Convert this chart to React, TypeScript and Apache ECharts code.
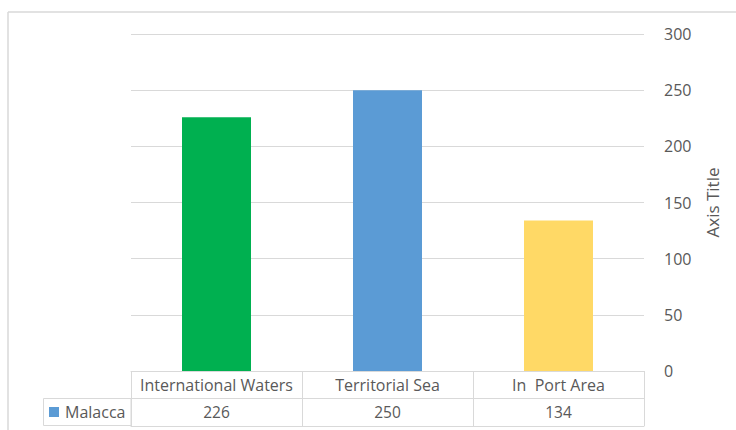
import React, { useEffect, useRef } from "react";
import * as echarts from "echarts";

const categories = ["International Waters", "Territorial Sea", "In  Port Area"];
const seriesName = "Malacca";
const values = [226, 250, 134];
const barColors = ["#00B050", "#5B9BD5", "#FFD966"];
const yTicks = { min: 0, max: 300, interval: 50 };

const TEXT = "#595959";
const LINE = "#D9D9D9";
const FONT = "'Open Sans', 'Noto Sans', sans-serif";

export default function App() {
  const ref = useRef<HTMLDivElement>(null);
  useEffect(() => {
    if (!ref.current) return;
    const chart = echarts.init(ref.current, null, { renderer: "svg" });
    const option: any = {
      animation: false,
      backgroundColor: "#fff",
      textStyle: { fontFamily: FONT },
      grid: { left: 131, right: 92, top: 34, bottom: 59, containLabel: false },
      legend: {
        data: [seriesName],
        left: 49,
        top: 404,
        padding: 0,
        icon: "rect",
        itemWidth: 10,
        itemHeight: 10,
        itemGap: 6,
        textStyle: { fontSize: 16, color: TEXT, fontFamily: FONT, padding: [0, 0, 0, 1] },
      },
      xAxis: [
        {
          type: "category",
          data: categories,
          position: "bottom",
          axisLine: { show: true, lineStyle: { color: LINE, width: 1 } },
          axisTick: { show: true, length: 55, lineStyle: { color: LINE, width: 1 } },
          axisLabel: { margin: 5.5, fontSize: 16, color: TEXT, fontFamily: FONT, interval: 0 },
          splitLine: { show: false },
        },
        {
          type: "category",
          data: values.map(String),
          position: "bottom",
          offset: 27,
          axisLine: { show: true, lineStyle: { color: LINE, width: 1 } },
          axisTick: { show: false },
          axisLabel: { margin: 6, fontSize: 15.5, color: TEXT, fontFamily: FONT, interval: 0 },
        },
        {
          type: "category",
          data: categories,
          position: "bottom",
          offset: 55,
          axisLine: { show: true, lineStyle: { color: LINE, width: 1 } },
          axisTick: { show: false },
          axisLabel: { show: false },
        },
      ],
      yAxis: {
        type: "value",
        position: "right",
        min: yTicks.min,
        max: yTicks.max,
        interval: yTicks.interval,
        axisLine: { show: false },
        axisTick: { show: false },
        splitLine: { lineStyle: { color: LINE, width: 1 } },
        axisLabel: { margin: 20, fontSize: 16, color: TEXT, fontFamily: FONT },
        name: "Axis Title",
        nameLocation: "middle",
        nameRotate: 90,
        nameGap: 60,
        nameTextStyle: { fontSize: 17, color: TEXT, fontFamily: FONT },
      },
      series: [
        {
          name: seriesName,
          type: "bar",
          xAxisIndex: 0,
          barWidth: 69,
          itemStyle: { color: barColors[1] },
          data: values.map((v, i) => ({ value: v, itemStyle: { color: barColors[i] } })),
        },
      ],
      graphic: [
        {
          type: "line",
          shape: { x1: 8, y1: 12, x2: 736, y2: 12 },
          style: { stroke: LINE, lineWidth: 1.5 },
          silent: true,
        },
        {
          type: "line",
          shape: { x1: 8, y1: 12, x2: 8, y2: 430 },
          style: { stroke: LINE, lineWidth: 1.5 },
          silent: true,
        },
        {
          type: "rect",
          shape: { x: 43.5, y: 398.5, width: 87.5, height: 27 },
          style: { fill: "none", stroke: LINE, lineWidth: 1 },
          silent: true,
        },
      ],
    };
    chart.setOption(option);
    return () => chart.dispose();
  }, []);
  return (
    <div
      ref={ref}
      style={{ position: "fixed", left: 0, top: 0, width: 736, height: 430 }}
    />
  );
}
